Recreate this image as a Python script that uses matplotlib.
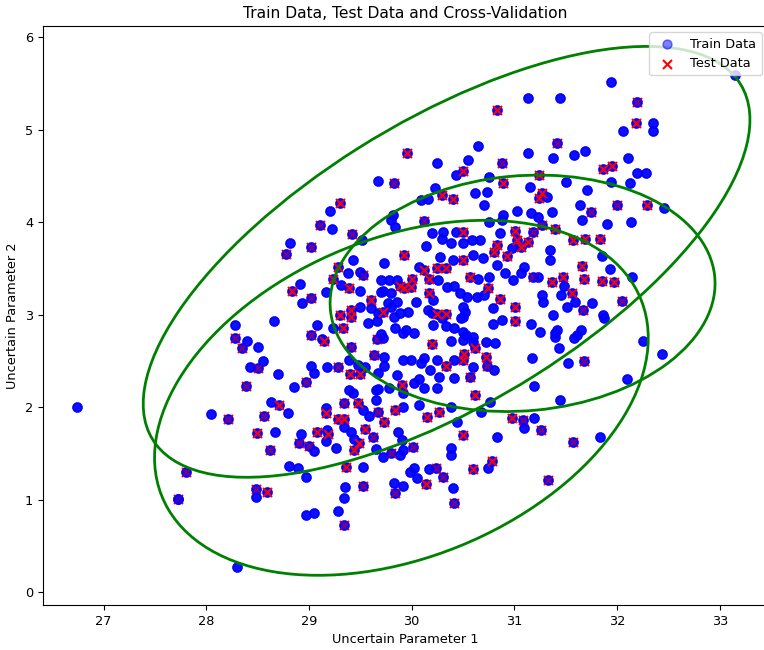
import matplotlib
matplotlib.use("Agg")
import matplotlib.pyplot as plt
from matplotlib.patches import Ellipse

# samples that only ever appear on the training side
train_x = [26.74, 27.72, 28.30, 28.05, 28.63, 28.80, 28.85, 28.67, 28.92, 29.05, 29.17, 29.18, 29.17, 29.26,
           29.34, 29.41, 29.44, 29.39, 29.53, 29.65, 28.81, 28.89, 28.97, 29.53, 29.35, 29.34, 29.28, 28.97,
           29.05, 28.48, 29.65, 29.58, 29.43, 28.91, 28.93, 29.17, 28.28, 28.40, 28.50, 28.66, 28.55, 28.43,
           28.70, 29.05, 29.02, 29.08, 29.13, 29.23, 29.18, 29.39, 29.50, 29.43, 29.38, 29.31, 29.50, 29.66,
           29.48, 29.55, 29.67, 29.67, 29.20, 29.22, 29.52, 28.82, 30.23, 30.16, 29.82, 29.80, 29.84, 30.20,
           30.31, 30.14, 30.30, 30.38, 30.43, 29.70, 29.72, 29.78, 29.86, 30.07, 30.26, 30.34, 30.41, 30.21,
           30.41, 30.16, 30.04, 29.96, 29.86, 29.77, 29.70, 29.80, 29.60, 29.83, 29.84, 29.94, 30.02, 30.21,
           30.33, 29.50, 29.57, 29.70, 31.15, 31.32, 31.50, 31.71, 31.64, 31.66, 31.90, 30.62, 30.73, 30.70,
           31.03, 30.89, 30.88, 31.16, 31.23, 31.37, 30.75, 30.86, 30.98, 30.67, 30.59, 30.50, 30.60, 30.69,
           30.28, 30.65, 30.75, 30.83, 30.91, 30.99, 31.06, 31.09, 30.47, 30.54, 30.64, 30.70, 30.79, 30.88,
           31.16, 31.25, 31.40, 31.35, 31.35, 31.23, 31.48, 31.45, 31.51, 31.59, 31.76, 31.86, 31.27, 30.52,
           30.50, 30.50, 30.60, 30.79, 31.61, 31.94, 31.13, 31.44, 32.06, 30.65, 31.13, 31.38, 31.58, 31.69,
           30.25, 30.55, 30.43, 30.75, 32.11, 32.19, 32.28, 31.94, 32.13, 30.09, 32.14, 29.73, 30.40, 31.85,
           31.93, 32.15, 33.15, 32.35, 32.35, 32.46, 32.44, 32.25, 32.10, 31.87, 31.65, 31.58, 31.52, 31.43,
           31.17, 31.19, 31.44, 30.80, 30.60, 30.53, 30.50, 30.60, 30.72, 30.81, 30.38, 30.41, 30.41, 30.27,
           30.25, 30.18, 30.12, 30.07, 30.02, 29.86, 29.92, 29.78, 29.67, 29.73, 29.73, 29.72, 29.67, 29.80,
           29.89, 29.92, 29.99, 29.92, 30.09, 30.12, 30.25, 30.30, 30.20, 30.48, 30.50, 31.28, 31.38, 31.42,
           31.40, 30.76, 30.68, 30.44, 30.38, 30.83, 31.19, 31.09, 31.83, 30.38, 30.38, 30.02, 29.98, 30.05,
           30.17, 29.83, 29.92, 30.40, 30.74, 29.72, 29.89, 29.92, 29.65, 29.92, 29.87, 29.91, 30.07]
train_y = [2.00, 1.01, 0.27, 1.92, 2.05, 1.94, 2.22, 1.73, 1.71, 1.52, 1.99, 1.75, 1.63, 1.56,
           1.78, 1.73, 1.66, 2.18, 1.97, 1.55, 1.36, 1.34, 1.24, 1.35, 1.14, 1.02, 0.88, 0.83,
           0.86, 1.03, 2.18, 1.90, 2.15, 3.33, 3.12, 3.24, 2.89, 2.71, 2.65, 2.93, 2.50, 2.43,
           2.36, 2.37, 2.44, 2.89, 2.74, 2.86, 2.43, 2.51, 3.26, 3.59, 3.45, 3.32, 3.46, 2.93,
           2.45, 2.43, 2.19, 4.44, 4.12, 3.92, 3.81, 3.77, 4.37, 4.25, 4.08, 4.02, 3.95, 3.88,
           3.89, 3.74, 3.82, 3.77, 3.89, 3.37, 3.26, 3.37, 3.37, 3.51, 3.37, 3.30, 3.31, 3.16,
           2.86, 3.05, 3.14, 3.03, 3.14, 3.12, 3.24, 3.23, 3.07, 2.97, 2.86, 2.83, 2.80, 2.89,
           2.88, 3.08, 2.91, 2.79, 4.38, 4.27, 4.43, 4.35, 4.18, 4.02, 3.98, 4.31, 4.32, 4.18,
           4.12, 4.08, 4.02, 4.10, 4.05, 4.11, 4.00, 3.88, 3.72, 3.81, 3.81, 3.77, 3.64, 3.61,
           3.62, 3.39, 3.41, 3.54, 3.45, 3.37, 3.45, 3.51, 3.23, 3.19, 3.19, 3.21, 3.07, 2.94,
           2.90, 2.81, 2.80, 3.70, 3.59, 3.41, 3.31, 3.21, 3.08, 3.14, 3.12, 2.99, 3.21, 3.03,
           2.97, 2.81, 2.76, 2.90, 2.78, 5.51, 5.34, 5.34, 4.99, 4.82, 4.75, 4.69, 4.72, 4.77,
           4.64, 4.67, 4.51, 4.49, 4.69, 4.53, 4.53, 4.43, 4.42, 4.24, 4.00, 3.56, 3.59, 3.63,
           3.49, 3.41, 5.59, 5.07, 4.98, 4.15, 2.57, 2.71, 2.30, 2.96, 2.83, 2.75, 2.48, 2.64,
           2.53, 2.23, 2.08, 2.40, 2.43, 2.78, 2.72, 2.70, 2.70, 2.69, 2.71, 2.51, 2.31, 2.32,
           2.21, 2.40, 2.21, 2.30, 2.26, 2.35, 2.15, 2.21, 2.37, 2.44, 2.54, 2.75, 3.02, 3.08,
           3.02, 2.80, 2.51, 2.51, 2.48, 2.53, 2.51, 2.96, 3.02, 2.96, 3.08, 3.14, 2.99, 2.83,
           2.76, 2.06, 1.95, 1.84, 2.00, 1.68, 1.88, 1.77, 1.68, 1.56, 1.48, 1.34, 1.30, 1.23,
           1.33, 1.18, 1.15, 1.12, 1.34, 1.46, 1.48, 1.54, 2.08, 2.00, 1.73, 1.64, 2.02]

# test samples from the last fold (x drawn last, stays bright red)
test_x = [28.71, 28.49, 29.08, 29.17, 29.19, 29.28, 29.34, 29.44, 29.49, 29.48, 29.55, 29.36, 28.59,
          28.83, 29.15, 29.33, 29.40, 29.50, 29.60, 29.41, 29.41, 29.30, 29.23, 29.28, 29.30, 30.30,
          30.40, 29.93, 29.89, 29.93, 29.99, 30.00, 30.12, 30.17, 30.25, 30.33, 30.17, 30.25, 30.33,
          29.72, 30.89, 31.27, 31.24, 31.40, 31.57, 31.69, 31.83, 30.50, 31.01, 31.03, 31.13, 31.06,
          30.83, 30.80, 30.93, 30.50, 30.57, 30.74, 30.86, 31.01, 31.01, 31.37, 31.47, 31.56, 31.66,
          31.68, 31.85, 31.97, 30.83, 32.18, 29.95, 30.50, 31.24, 31.86, 31.95, 32.29, 30.62, 30.51,
          30.50, 30.72, 30.20, 30.33, 29.91, 30.62, 30.50, 30.15, 30.27, 30.98, 30.14, 30.60, 30.78,
          29.73, 29.84, 29.39]
test_y = [2.02, 1.72, 1.73, 1.94, 1.71, 1.87, 1.87, 1.54, 1.61, 2.04, 1.76, 1.35, 1.08,
          3.25, 2.71, 2.86, 2.36, 2.36, 3.16, 3.05, 2.97, 2.99, 3.39, 3.51, 4.21, 4.29,
          4.25, 3.64, 3.31, 3.29, 3.30, 3.39, 3.48, 3.38, 3.50, 3.50, 3.23, 3.01, 3.01,
          3.03, 4.42, 4.31, 4.26, 3.92, 3.81, 3.82, 3.82, 3.89, 3.90, 3.81, 3.78, 3.73,
          3.75, 3.68, 3.63, 3.59, 3.41, 3.29, 3.17, 3.08, 2.93, 3.35, 3.41, 3.23, 3.52,
          3.39, 3.36, 3.35, 5.21, 5.07, 4.75, 4.55, 4.51, 4.57, 4.61, 4.19, 2.64, 2.57,
          2.51, 2.54, 2.68, 2.44, 2.24, 2.13, 1.70, 1.89, 1.95, 1.88, 1.17, 1.33, 1.42,
          1.84, 1.97, 3.29]

# test samples from earlier folds (overdrawn by later training passes)
early_x = [27.72, 27.80, 28.21, 28.39, 28.56, 28.97, 28.62, 28.90, 29.00, 29.34, 29.62, 29.53, 29.34,
           28.48, 29.67, 29.02, 28.28, 28.35, 28.50, 29.02, 29.41, 29.28, 29.53, 29.66, 29.63, 29.11,
           29.42, 28.78, 29.02, 29.83, 30.12, 31.75, 32.00, 31.27, 31.18, 31.67, 31.18, 32.19, 31.42,
           30.88, 32.05, 31.68, 30.73, 30.57, 31.08, 31.26, 31.57, 30.24, 30.31, 29.84, 30.41, 31.33,
           29.80, 30.01]
early_y = [1.01, 1.30, 1.87, 2.23, 1.90, 2.27, 1.54, 1.61, 1.58, 2.04, 1.68, 1.15, 0.72,
           1.11, 1.95, 3.18, 2.75, 2.64, 2.42, 2.78, 2.65, 2.43, 3.43, 2.74, 2.56, 3.97,
           3.87, 3.66, 3.73, 4.42, 4.01, 4.11, 4.18, 3.97, 3.89, 3.05, 3.41, 5.30, 4.85,
           4.64, 3.15, 2.50, 2.44, 2.32, 1.86, 1.75, 1.62, 1.34, 1.24, 1.07, 0.96, 1.21,
           1.50, 1.57]

# confidence ellipses: centre, full width, full height, rotation (deg)
ell_cx = [30.34, 29.90, 31.08]
ell_cy = [3.57, 2.10, 3.23]
ell_w = [6.90, 5.14, 3.76]
ell_h = [3.00, 3.38, 2.54]
ell_ang = [35, 28, 6]

all_x = train_x + test_x + early_x
all_y = train_y + test_y + early_y

fig = plt.figure(figsize=(7.64, 6.5), dpi=100)
ax = fig.add_axes([43 / 764, 45 / 650, 725 / 764, 579 / 650])

# training passes pile up alpha until the dots look solid
h_train = ax.scatter(all_x, all_y, c='blue', alpha=0.5, s=42, label='Train Data')
ax.scatter(all_x, all_y, c='blue', alpha=0.5, s=42)
ax.scatter(all_x, all_y, c='blue', alpha=0.5, s=42)
ax.scatter(early_x, early_y, c='red', marker='x', s=42)
ax.scatter(all_x, all_y, c='blue', alpha=0.5, s=42)
h_test = ax.scatter(test_x, test_y, c='red', marker='x', s=42, label='Test Data')

for cx, cy, w, h, a in zip(ell_cx, ell_cy, ell_w, ell_h, ell_ang):
    ax.add_patch(Ellipse((cx, cy), w, h, angle=a, fill=False, edgecolor='green', linewidth=2))

ax.set_xlim(26.41, 33.47)
ax.set_ylim(-0.14, 6.12)
ax.tick_params(labelsize=9.3)
ax.set_xlabel('Uncertain Parameter 1', fontsize=9.3)
ax.set_ylabel('Uncertain Parameter 2', fontsize=9.3)
ax.set_title('Train Data, Test Data and Cross-Validation', fontsize=11.2)
ax.legend(handles=[h_train, h_test], loc='upper right', fontsize=9.3)

fig.savefig('out.png', dpi=100)
